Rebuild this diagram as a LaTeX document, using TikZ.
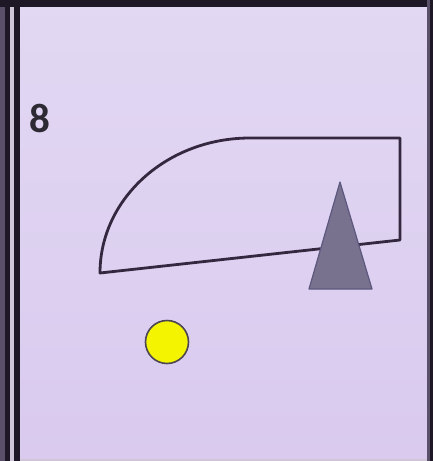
\documentclass[tikz,border=0pt]{standalone}
\usepackage{fontspec}
\setmainfont{Carlito}
\usepackage{tikz}
\usetikzlibrary{calc}
\definecolor{cellbg}{HTML}{E2D8F3}
\definecolor{cellbgb}{HTML}{D9CAEE}
\definecolor{frame}{HTML}{1E1826}
\definecolor{framesoft}{HTML}{5A506A}
\definecolor{gap}{HTML}{CFC6DA}
\definecolor{edge}{HTML}{33283F}
\definecolor{cone}{HTML}{78728E}
\definecolor{conedge}{HTML}{5C587E}
\definecolor{bulb}{HTML}{F4F400}
\definecolor{digit}{HTML}{2E2A34}

\begin{document}
\begin{tikzpicture}[x=1pt,y=-1pt,
  outline/.style={draw=edge, line width=2.8pt, line join=round},
  rim/.style={fill=frame, draw=none},
  tag/.style={font=\fontsize{41}{43}\selectfont\bfseries, text=digit, inner sep=0pt, anchor=north west}]

\path[use as bounding box] (0,0) rectangle (433,461);

% ------------------------------------------------------------------ cell
\shade[top color=cellbg, bottom color=cellbgb] (0,0) rectangle (433,461);
\fill[gap] (0,459) rectangle (433,461);

% frame: double rule on the left, rules top and right
\fill[framesoft] (0,0) rectangle (5,461);
\fill[rim] (5,0) rectangle (9.5,461);
\fill[gap] (9.5,0) rectangle (14,461);
\fill[rim] (14,0) rectangle (19.5,461);
\fill[rim] (0,0) rectangle (433,6.5);
\fill[framesoft] (427,0) rectangle (433,461);
\fill[rim] (430,0) rectangle (433,461);

% number
\node[tag] (num) at (29,104) {8};

% ------------------------------------------------------------------ shapes
% quarter-round slab (y runs downwards, so the arc ends at 270)
\draw[outline] (100,273) arc[start angle=180, end angle=270, x radius=150, y radius=135]
  -- (400,138) -- (400,240) -- cycle;

% cone in front of the slab
\filldraw[fill=cone, draw=conedge, line width=1.2pt, line join=round]
  (340,182) -- (372,289) -- (309,289) -- cycle;

% lamp
\node[circle, fill=bulb, draw=frame!80, line width=1.6pt, minimum size=43pt, inner sep=0pt]
  (lamp) at (167,342) {};
\end{tikzpicture}
\end{document}
